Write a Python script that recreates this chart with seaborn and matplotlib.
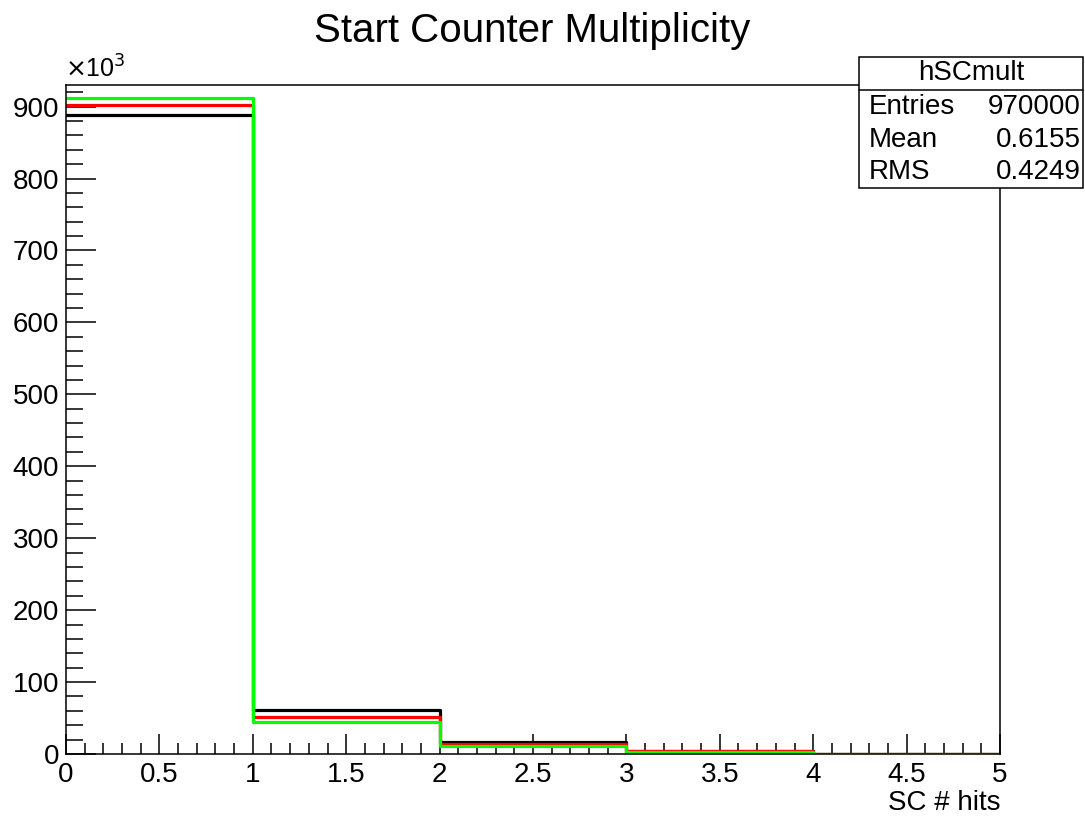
import numpy as np
import pandas as pd
import matplotlib
matplotlib.use("Agg")
import matplotlib.pyplot as plt
from matplotlib.ticker import MultipleLocator
import seaborn as sns

# ---- data (counts in units of 10^3) ----
bin_edges = [0, 1, 2, 3, 4, 5]
bin_centers = [0.5, 1.5, 2.5, 3.5, 4.5]
black_counts = [888, 61, 16, 4.5, 0.5]
red_counts = [902, 52, 14, 4.0, 0.4]
green_counts = [912, 45, 11.5, 3.0, 0.3]
series_names = ["black", "red", "green"]
series_colors = ["#000000", "#ff0000", "#00ff00"]
stats_labels = ["Entries", "Mean", "RMS"]
stats_values = ["970000", "0.6155", "0.4249"]
x_ticks = [0, 0.5, 1, 1.5, 2, 2.5, 3, 3.5, 4, 4.5, 5]
x_tick_labels = ["0", "0.5", "1", "1.5", "2", "2.5", "3", "3.5", "4", "4.5", "5"]
y_ticks = [0, 100, 200, 300, 400, 500, 600, 700, 800, 900]

sns.set_style("ticks")
plt.rcParams["font.family"] = ["Liberation Sans", "DejaVu Sans"]
plt.rcParams["text.color"] = "black"
plt.rcParams["axes.labelcolor"] = "black"
plt.rcParams["xtick.color"] = "black"
plt.rcParams["ytick.color"] = "black"

W, H = 1085, 818
fig = plt.figure(figsize=(W / 100, H / 100), dpi=100)
ax_l, ax_r, ax_t, ax_b = 66, 1000, 85, 754
ax = fig.add_axes([ax_l / W, 1 - ax_b / H, (ax_r - ax_l) / W, (ax_b - ax_t) / H])

for counts, color in zip([black_counts, red_counts, green_counts], series_colors):
    df = pd.DataFrame({"x": bin_centers, "w": counts})
    sns.histplot(data=df, x="x", weights="w", bins=bin_edges, element="step",
                 fill=False, color=color, linewidth=2.3, ax=ax)

ax.set_xlim(0, 5)
ax.set_ylim(0, 930)
ax.set_xticks(x_ticks)
ax.set_xticklabels(x_tick_labels)
ax.set_yticks(y_ticks)
ax.xaxis.set_minor_locator(MultipleLocator(0.1))
ax.yaxis.set_minor_locator(MultipleLocator(20))
ax.tick_params(axis="both", which="both", direction="in", top=False, right=False,
               labelsize=20, width=1.1, color="black", labelcolor="black")
ax.tick_params(axis="x", which="major", length=14.5, pad=6)
ax.tick_params(axis="x", which="minor", length=8)
ax.tick_params(axis="y", which="major", length=21.5, pad=5)
ax.tick_params(axis="y", which="minor", length=12)
for s in ax.spines.values():
    s.set_visible(True)
    s.set_linewidth(1.1)
    s.set_color("black")
ax.set_ylabel("")
ax.set_xlabel("SC # hits", loc="right", fontsize=20, labelpad=1)

# exponent label
fig.text(65 / W, 1 - 83 / H, r"$\times$10$^{3}$", fontsize=18, ha="left", va="bottom")

# title
fig.text(532 / W, 1 - 31 / H, "Start Counter Multiplicity", fontsize=29,
         ha="center", va="center")

# stats box
bx0, bx1, by0, by1, bsep = 859, 1083, 57, 188, 90
box = plt.Rectangle((bx0 / W, 1 - by1 / H), (bx1 - bx0) / W, (by1 - by0) / H,
                    transform=fig.transFigure, facecolor="white", edgecolor="black",
                    linewidth=1.1, zorder=5)
fig.add_artist(box)
fig.add_artist(plt.Line2D([bx0 / W, bx1 / W], [1 - bsep / H, 1 - bsep / H],
                          transform=fig.transFigure, color="black", linewidth=1.1, zorder=6))
fig.text((bx0 + bx1) / 2 / W, 1 - 73 / H, "hSCmult", fontsize=20, ha="center",
         va="center", zorder=7)
row_y = [107, 140, 172]
for lab, val, yy in zip(stats_labels, stats_values, row_y):
    fig.text(869 / W, 1 - yy / H, lab, fontsize=20, ha="left", va="center", zorder=7)
    fig.text(1081 / W, 1 - yy / H, val, fontsize=20, ha="right", va="center", zorder=7)

fig.savefig("out.png", dpi=100, facecolor="white")
